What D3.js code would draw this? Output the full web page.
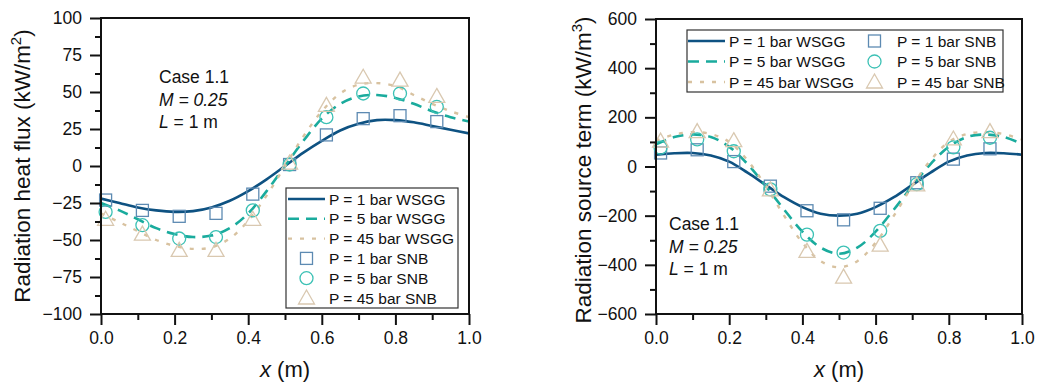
<!DOCTYPE html>
<html>
<head>
<meta charset="utf-8">
<script src="https://cdn.jsdelivr.net/npm/d3@7"></script>
<style>
  body { margin: 0; background: #fff; }
  text { font-family: "Liberation Sans", Arial, sans-serif; fill: #111; }
</style>
</head>
<body>
<svg id="chart"></svg>
<script>
// Data
const xLine = [0, 0.05, 0.1, 0.15, 0.2, 0.25, 0.3, 0.35, 0.4, 0.45, 0.5,
               0.55, 0.6, 0.65, 0.7, 0.75, 0.8, 0.85, 0.9, 0.95, 1.0]
const xSnb = [0.0125, 0.1125, 0.2125, 0.3125, 0.4125, 0.5125, 0.6125, 0.7125, 0.8125, 0.9125]

// heat flux (kW/m2)
const fluxWsgg1  = [-22, -25, -28, -30, -31, -30.5, -28, -23.5, -17, -9, 0, 9, 17, 24, 28.5, 31, 31, 29.5, 27, 24.5, 22]
const fluxWsgg5  = [-25, -30, -36, -42, -46, -48, -47, -42, -32, -17, 0, 17, 32, 42, 47, 48, 46, 42, 37, 33, 30]
const fluxWsgg45 = [-32, -38, -44, -50, -54, -56, -55, -49, -37, -20, 0, 20, 37, 49, 55, 56, 54, 48, 42, 37, 33]
const fluxSnb1   = [-23, -30, -34, -32, -19, 1, 21, 32, 34, 30]
const fluxSnb5   = [-31, -40, -49, -48, -30, 1, 33, 49, 49, 40]
const fluxSnb45  = [-36, -46, -57, -57, -36, 2, 41, 60, 58, 47]

// source term (kW/m3)
const srcWsgg1  = [48, 54, 55, 45, 20, -25, -75, -125, -165, -192, -200, -192, -165, -125, -75, -25, 20, 45, 55, 54, 48]
const srcWsgg5  = [90, 120, 130, 120, 80, 10, -80, -175, -265, -330, -355, -330, -265, -175, -80, 10, 80, 120, 130, 120, 92]
const srcWsgg45 = [105, 130, 140, 132, 100, 25, -80, -200, -310, -385, -410, -385, -310, -200, -80, 25, 100, 132, 140, 132, 110]
const srcSnb1   = [55, 68, 20, -80, -180, -217, -170, -66, 30, 72]
const srcSnb5   = [77, 110, 62, -93, -277, -350, -262, -72, 78, 117]
const srcSnb45  = [103, 142, 105, -95, -345, -450, -320, -75, 112, 142]

const xTicks = [0, 0.2, 0.4, 0.6, 0.8, 1.0]
const xMinor = [0.1, 0.3, 0.5, 0.7, 0.9]
const fluxTicks = [-100, -75, -50, -25, 0, 25, 50, 75, 100]
const fluxMinor = [-87.5, -62.5, -37.5, -12.5, 12.5, 37.5, 62.5, 87.5]
const srcTicks = [-600, -400, -200, 0, 200, 400, 600]
const srcMinor = [-500, -300, -100, 100, 300, 500]

const wsggNames = ['P = 1 bar WSGG', 'P = 5 bar WSGG', 'P = 45 bar WSGG']
const snbNames = ['P = 1 bar SNB', 'P = 5 bar SNB', 'P = 45 bar SNB']

const width = 1038
const height = 383

const lineStyle = [
  {color: '#0e5282', dash: null, w: 2.6},
  {color: '#1aab9d', dash: '11,7', w: 2.6},
  {color: '#d8c2a0', dash: '4,8', w: 2.4}
]
const markStyle = [
  {shape: 'square', color: '#5d8ab2'},
  {shape: 'circle', color: '#3cc1b5'},
  {shape: 'triangle', color: '#d9c8b0'}
]

const svg = d3.select('#chart').attr('width', width).attr('height', height)
svg.append('rect').attr('width', width).attr('height', height).attr('fill', '#fff')

let drawMarker = (g, shape, cx, cy, color) => {
  if (shape == 'square') {
    g.append('rect').attr('x', cx - 6).attr('y', cy - 6).attr('width', 12).attr('height', 12)
      .attr('fill', 'none').attr('stroke', color).attr('stroke-width', 1.3)
  } else if (shape == 'circle') {
    g.append('circle').attr('cx', cx).attr('cy', cy).attr('r', 6.5)
      .attr('fill', 'none').attr('stroke', color).attr('stroke-width', 1.3)
  } else {
    g.append('path').attr('d', 'M' + cx + ',' + (cy - 8) + 'L' + (cx + 8) + ',' + (cy + 6) + 'L' + (cx - 8) + ',' + (cy + 6) + 'Z')
      .attr('fill', 'none').attr('stroke', color).attr('stroke-width', 1.3)
  }
}

let drawPanel = (p) => {
  const xScale = d3.scaleLinear().domain([0, 1]).range([p.left, p.right])
  const yScale = d3.scaleLinear().domain(p.yDomain).range([p.bottom, p.top])
  const g = svg.append('g')

  const clipId = 'clip' + p.left
  svg.append('clipPath').attr('id', clipId).append('rect')
    .attr('x', p.left).attr('y', p.top).attr('width', p.right - p.left).attr('height', p.bottom - p.top)

  // lines
  const line = d3.line().x(d => xScale(d[0])).y(d => yScale(d[1])).curve(d3.curveCatmullRom)
  p.lines.forEach((vals, i) => {
    g.append('path')
      .attr('clip-path', 'url(#' + clipId + ')')
      .attr('d', line(xLine.map((x, j) => [x, vals[j]])))
      .attr('fill', 'none')
      .attr('stroke', lineStyle[i].color)
      .attr('stroke-width', lineStyle[i].w)
      .attr('stroke-dasharray', lineStyle[i].dash)
  })

  // SNB markers
  p.marks.forEach((vals, i) => {
    vals.forEach((v, j) => drawMarker(g, markStyle[i].shape, xScale(xSnb[j]), yScale(v), markStyle[i].color))
  })

  // axes
  const xAxis = d3.axisBottom(xScale).tickValues(xTicks).tickSize(11).tickPadding(7).tickFormat(d3.format('.1f'))
  const xAxisMinor = d3.axisBottom(xScale).tickValues(xMinor).tickSize(6).tickFormat('')
  const yAxis = d3.axisLeft(yScale).tickValues(p.yTicks).tickSize(11).tickPadding(8).tickFormat(d3.format('d'))
  const yAxisMinor = d3.axisLeft(yScale).tickValues(p.yMinor).tickSize(6).tickFormat('')

  ;[[xAxis, 'x'], [xAxisMinor, 'x'], [yAxis, 'y'], [yAxisMinor, 'y']].forEach(([ax, k]) => {
    const a = g.append('g')
      .attr('transform', k == 'x' ? 'translate(0,' + p.bottom + ')' : 'translate(' + p.left + ',0)')
      .call(ax)
    a.select('.domain').remove()
    a.selectAll('line').attr('stroke', '#111').attr('stroke-width', 2)
    a.selectAll('text').attr('font-size', 17.5).attr('fill', '#111')
      .attr('font-family', '"Liberation Sans", Arial, sans-serif')
  })

  // frame
  g.append('rect').attr('x', p.left).attr('y', p.top)
    .attr('width', p.right - p.left).attr('height', p.bottom - p.top)
    .attr('fill', 'none').attr('stroke', '#111').attr('stroke-width', 2)

  // axis titles
  const xt = g.append('text').attr('x', (p.left + p.right) / 2).attr('y', 377)
    .attr('text-anchor', 'middle').attr('font-size', 22)
  xt.append('tspan').attr('font-style', 'italic').text('x')
  xt.append('tspan').text(' (m)')

  const yt = g.append('text')
    .attr('transform', 'translate(' + p.yTitleX + ',' + p.yTitleY + ') rotate(-90)')
    .attr('text-anchor', 'middle').attr('font-size', 22.5)
  yt.append('tspan').text(p.yTitle)
  yt.append('tspan').attr('font-size', 15).attr('dy', -9).text(p.yPow)
  yt.append('tspan').attr('dy', 9).text(')')

  // case annotation
  const note = g.append('text').attr('font-size', 17.5)
  note.append('tspan').attr('x', p.noteX).attr('y', p.noteY).text('Case 1.1')
  const m = note.append('tspan').attr('x', p.noteX).attr('y', p.noteY + 22.5)
  m.append('tspan').attr('font-style', 'italic').text('M = 0.25')
  const l = note.append('tspan').attr('x', p.noteX).attr('y', p.noteY + 45)
  l.append('tspan').attr('font-style', 'italic').text('L')
  l.append('tspan').text(' = 1 m')

  // legend
  const lg = g.append('g')
  lg.append('rect').attr('x', p.legend.x).attr('y', p.legend.y)
    .attr('width', p.legend.w).attr('height', p.legend.h)
    .attr('fill', '#fff').attr('stroke', '#333').attr('stroke-width', 1.2)
  p.legend.items.forEach(it => {
    if (it.kind == 'line') {
      const s = lineStyle[it.i]
      lg.append('line').attr('x1', it.x).attr('x2', it.x + 37).attr('y1', it.y).attr('y2', it.y)
        .attr('stroke', s.color).attr('stroke-width', s.w).attr('stroke-dasharray', s.dash)
    } else {
      drawMarker(lg, markStyle[it.i].shape, it.x + 18.5, it.y, markStyle[it.i].color)
    }
    lg.append('text').attr('x', it.x + 41).attr('y', it.y + 5.5).attr('font-size', 15.5).text(it.label)
  })
}

// left panel: heat flux
const leftItems = []
wsggNames.forEach((n, i) => leftItems.push({kind: 'line', i: i, label: n, x: 288, y: 199 + i * 19.8}))
snbNames.forEach((n, i) => leftItems.push({kind: 'mark', i: i, label: n, x: 288, y: 258.4 + i * 19.8}))

drawPanel({
  left: 101, right: 469, top: 18, bottom: 314,
  yDomain: [-100, 100], yTicks: fluxTicks, yMinor: fluxMinor,
  lines: [fluxWsgg1, fluxWsgg5, fluxWsgg45],
  marks: [fluxSnb1, fluxSnb5, fluxSnb45],
  yTitle: 'Radiation heat flux (kW/m', yPow: '2', yTitleX: 30, yTitleY: 166,
  noteX: 159, noteY: 83,
  legend: {x: 286, y: 188, w: 172, h: 120, items: leftItems}
})

// right panel: source term
const rightItems = []
wsggNames.forEach((n, i) => rightItems.push({kind: 'line', i: i, label: n, x: 688, y: 41 + i * 20.5}))
snbNames.forEach((n, i) => rightItems.push({kind: 'mark', i: i, label: n, x: 856, y: 41 + i * 20.5}))

drawPanel({
  left: 656, right: 1022, top: 19, bottom: 314,
  yDomain: [-600, 600], yTicks: srcTicks, yMinor: srcMinor,
  lines: [srcWsgg1, srcWsgg5, srcWsgg45],
  marks: [srcSnb1, srcSnb5, srcSnb45],
  yTitle: 'Radiation source term (kW/m', yPow: '3', yTitleX: 591, yTitleY: 170,
  noteX: 669, noteY: 230,
  legend: {x: 687, y: 30, w: 316, h: 62, items: rightItems}
})
</script>
</body>
</html>
